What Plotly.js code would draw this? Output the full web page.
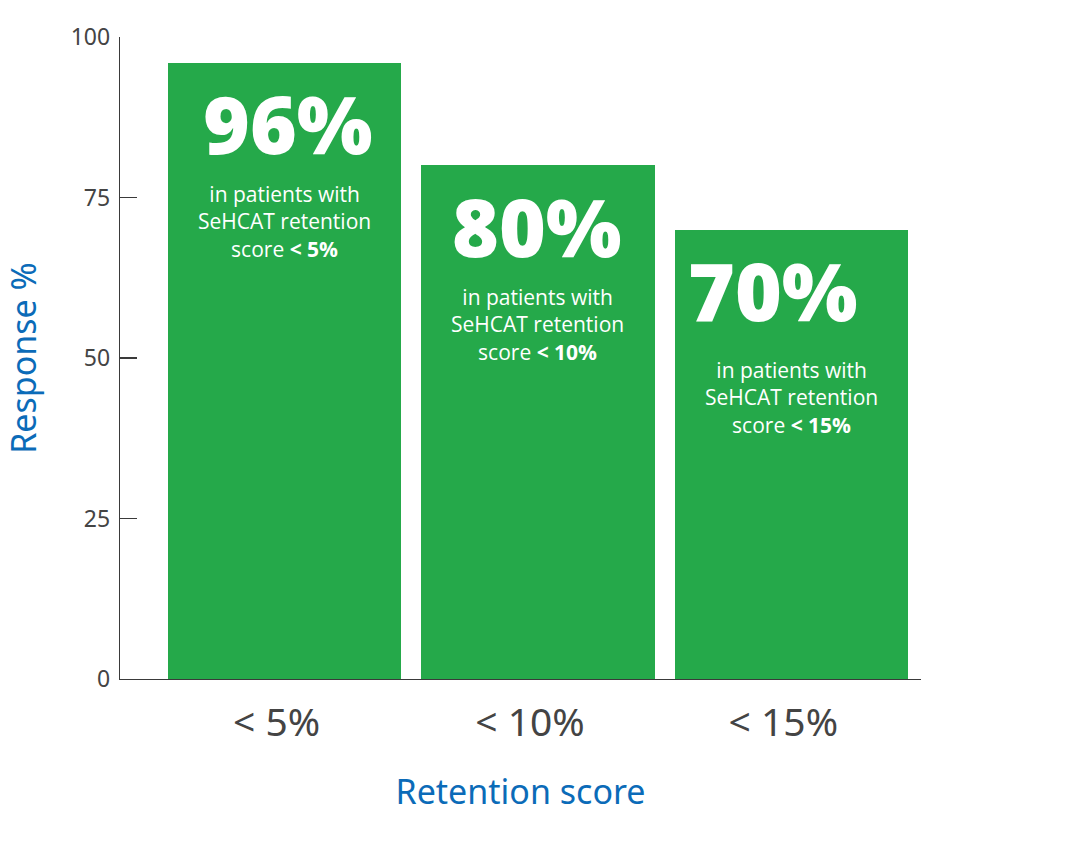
<!DOCTYPE html>
<html>
<head>
<meta charset="utf-8">
<script src="https://cdn.plot.ly/plotly-3.0.1.min.js"></script>
<style>html,body{margin:0;padding:0;background:#fff;}#chart{width:1069px;height:851px;}</style>
</head>
<body>
<div id="chart"></div>
<script>
const categories = ["< 5%", "< 10%", "< 15%"];
const responseValues = [96, 80, 70];
const bigLabels = ["96%", "80%", "70%"];
const thresholds = ["5%", "10%", "15%"];
const yTickValues = [0, 25, 50, 75, 100];

const green = "#25a94a";
const blue = "#0b6bb8";
const gray = "#444444";

const trace = {
  type: "bar",
  x: categories,
  y: responseValues,
  marker: {color: green},
  width: 0.92,
  hoverinfo: "skip"
};

const subShift = [-130, -131, -139];
const bigXShift = [3, -1, -18];
const annotations = [];
categories.forEach((c, i) => {
  annotations.push({
    x: c, y: responseValues[i], xref: "x", yref: "y",
    text: bigLabels[i],
    showarrow: false, yanchor: "middle", yshift: -60, xshift: bigXShift[i],
    font: {family: "'Noto Sans', 'Open Sans', sans-serif", size: 80, weight: 900, color: "#ffffff"}
  });
  annotations.push({
    x: c, y: responseValues[i], xref: "x", yref: "y",
    text: "in patients with<br>SeHCAT retention<br>score <b>< " + thresholds[i] + "</b>",
    showarrow: false, yanchor: "top", yshift: subShift[i] + 15,
    font: {family: "'Open Sans', sans-serif", size: 21, color: "#ffffff"}
  });
});

const layout = {
  width: 1069, height: 851,
  margin: {l: 120, r: 148, t: 37, b: 172},
  paper_bgcolor: "#ffffff", plot_bgcolor: "#ffffff",
  showlegend: false,
  bargap: 0,
  xaxis: {
    type: "category",
    range: [-0.65, 2.512],
    showline: true, linecolor: "#3a3a3a", linewidth: 1.3,
    ticks: "", showgrid: false, zeroline: false,
    tickfont: {family: "'Noto Sans', 'Open Sans', sans-serif", size: 39, color: gray},
    ticklabelstandoff: 9,
    ticklabelshift: -8,
    title: {text: "Retention score", font: {family: "'Noto Sans', 'Open Sans', sans-serif", size: 34, color: blue}, standoff: 34}
  },
  yaxis: {
    range: [0, 100],
    tickvals: yTickValues,
    showline: true, linecolor: "#3a3a3a", linewidth: 1.3,
    ticks: "inside", ticklen: 17, tickcolor: "#3a3a3a", tickwidth: 1.3,
    showgrid: false, zeroline: false,
    tickfont: {family: "'Noto Sans', 'Open Sans', sans-serif", size: 23, color: gray},
    ticklabelstandoff: 4,
    title: {text: "Response %", font: {family: "'Noto Sans', 'Open Sans', sans-serif", size: 34, color: blue}, standoff: 27}
  },
  annotations: annotations
};

Plotly.newPlot("chart", [trace], layout, {displayModeBar: false, staticPlot: true});
</script>
</body>
</html>
